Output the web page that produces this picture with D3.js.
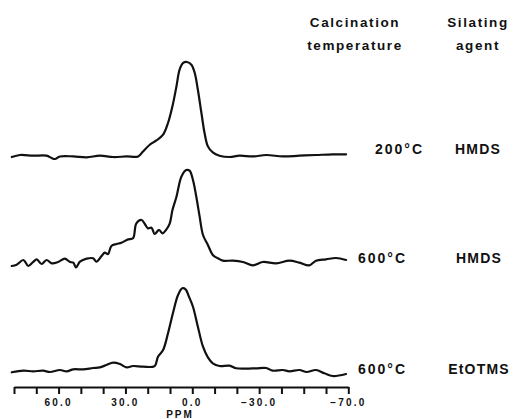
<!DOCTYPE html>
<html>
<head>
<meta charset="utf-8">
<script src="https://cdn.jsdelivr.net/npm/d3@7"></script>
<style>
  html, body { margin: 0; padding: 0; background: #fff; }
  svg { display: block; }
  text { font-family: "Liberation Sans", Arial, Helvetica, sans-serif; font-weight: bold; fill: #111; }
</style>
</head>
<body>
<svg id="chart" width="513" height="419"></svg>
<script>
// ---- Data (ppm positions and relative intensities) ----
const ppmTop = [81.0, 77.3, 71.4, 65.4, 63.1, 61.6, 59.4, 53.4, 47.4, 41.5, 35.5, 29.5, 24.3, 22.1, 19.1, 16.1, 13.1, 10.9, 8.9, 7.1, 5.7, 4.2, 2.4, 0.4, -1.1, -2.5, -4.1, -5.5, -7.0, -9.2, -12.2, -16.7, -21.2, -27.2, -33.2, -40.6, -48.1, -55.6, -63.0, -69.0];
const intTop = [0, 2.1, 1.4, 1.4, -1.1, -2.1, 0.6, 0.6, -0.4, 1.4, 0, 0.6, 0.6, 5.9, 12.9, 17.5, 23.5, 35.8, 53.5, 74.5, 92.0, 98.9, 100, 97.2, 88.5, 70.8, 46.3, 25.3, 11.2, 4.8, 1.4, 0, 1.4, 0.6, 2.1, 0.6, 1.4, 2.1, 2.8, 2.8];

const ppmMid = [81.0, 78.8, 75.8, 73.6, 71.4, 69.8, 67.6, 65.4, 63.1, 60.2, 57.2, 54.9, 53.4, 52.2, 50.4, 47.4, 44.5, 43.0, 40.7, 39.3, 37.8, 36.3, 34.0, 31.8, 28.8, 26.6, 25.1, 22.8, 21.3, 19.9, 18.3, 16.9, 14.9, 13.4, 11.6, 10.1, 8.9, 7.1, 4.9, 2.7, 1.2, -0.3, -1.8, -3.3, -4.8, -7.0, -9.2, -11.5, -13.7, -18.2, -22.7, -27.2, -31.6, -37.6, -43.6, -48.1, -52.5, -55.5, -60.0, -64.5, -69.0];
const intMid = [-1.4, 0, 4.9, -1.4, 2.8, 5.6, 0.7, 4.9, 1.4, 2.8, 6.3, 2.8, 2.1, -2.8, 3.1, 6.3, 6.7, 3.1, 9.1, 12.6, 11.2, 19.6, 21.7, 23.1, 26.6, 27.7, 43.5, 47.0, 42.8, 38.2, 38.9, 32.3, 36.5, 33.0, 37.2, 43.5, 57.5, 71.5, 92.6, 99.6, 98.9, 89.1, 71.5, 50.5, 31.2, 20.7, 10.2, 6.7, 4.2, 4.2, 2.8, -0.7, 2.8, 1.4, 4.2, 2.1, -0.7, 4.2, 5.6, 7.0, 4.9];

const ppmBot = [81.0, 75.8, 71.4, 66.9, 63.9, 59.4, 56.4, 53.4, 49.0, 44.5, 41.5, 38.5, 35.5, 32.5, 29.5, 26.6, 22.1, 16.9, 15.4, 13.1, 10.9, 8.7, 6.4, 4.5, 3.0, 1.5, -0.3, -2.5, -4.8, -7.0, -9.2, -12.2, -16.7, -19.7, -24.2, -28.7, -33.2, -36.1, -40.6, -43.6, -48.1, -51.3, -55.5, -59.3, -63.0, -69.0];
const intBot = [-0.3, 1.4, 0.7, 1.4, 0, 2.1, 0.7, 2.8, 2.8, 4.2, 4.9, 7.4, 9.8, 8.4, 4.9, 6.3, 5.6, 6.3, 16.1, 23.2, 40.7, 61.8, 81.1, 88.1, 87.0, 79.3, 68.7, 47.7, 26.6, 15.4, 9.1, 6.3, 6.7, 3.9, 3.5, 3.9, 4.2, 1.4, 2.1, 0.7, 2.1, 0, 2.1, -1.4, -4.2, -2.1];

const offsets = [226.3, 113, 0];               // vertical stacking offsets (intensity units)
const temps = ["200°C", "600°C", "600°C"];
const agents = ["HMDS", "HMDS", "EtOTMS"];
const headerTemp = ["Calcination", "temperature"];
const headerAgent = ["Silating", "agent"];
const tickValues = [80, 70, 60, 50, 40, 30, 20, 10, 0, -10, -20, -30, -40, -50, -60, -70];
const labelValues = [60, 30, 0, -30, -70];
const axisTitle = "PPM";

// ---- Chart ----
const svg = d3.select("#chart");
const x = d3.scaleLinear().domain([80, -70]).range([14, 348.3]);
const y = d3.scaleLinear().domain([0, 340]).range([372, 49]);

const traces = [
  { ppm: ppmTop, v: intTop },
  { ppm: ppmMid, v: intMid },
  { ppm: ppmBot, v: intBot }
];

const line = d3.line().curve(d3.curveCatmullRom.alpha(0.5));

traces.forEach((t, i) => {
  const pts = t.ppm.map((p, j) => [x(p), y(t.v[j] + offsets[i])]);
  svg.append("path")
    .attr("d", line(pts))
    .attr("fill", "none")
    .attr("stroke", "#111")
    .attr("stroke-width", 2.2)
    .attr("stroke-linejoin", "round")
    .attr("stroke-linecap", "round");
});

// Axis
const axisY = 387;
const axis = d3.axisBottom(x)
  .tickValues(tickValues)
  .tickSize(7)
  .tickSizeOuter(0)
  .tickFormat(() => "");
const ag = svg.append("g").attr("transform", `translate(0,${axisY})`).call(axis);
ag.select(".domain").attr("stroke", "#111").attr("stroke-width", 2.2);
ag.selectAll(".tick line").attr("stroke", "#111").attr("stroke-width", 2);

const fmt = d3.format(".1f");
svg.append("g").selectAll("text")
  .data(labelValues)
  .join("text")
  .attr("x", d => x(d))
  .attr("y", 406)
  .attr("text-anchor", "middle")
  .attr("font-size", 10)
  .attr("letter-spacing", 2.2)
  .text(d => fmt(d));

svg.append("text")
  .attr("x", 180)
  .attr("y", 418)
  .attr("text-anchor", "middle")
  .attr("font-size", 10)
  .attr("letter-spacing", 2)
  .text(axisTitle);

// Headers
const hdrY = [26.5, 50];
headerTemp.forEach((s, i) => {
  svg.append("text").attr("x", 355).attr("y", hdrY[i])
    .attr("text-anchor", "middle").attr("font-size", 13.5).attr("letter-spacing", 1.6).text(s);
});
headerAgent.forEach((s, i) => {
  svg.append("text").attr("x", 478).attr("y", hdrY[i])
    .attr("text-anchor", "middle").attr("font-size", 13.5).attr("letter-spacing", 1.6).text(s);
});

// Right labels
const tempX = [375, 358, 358];
const agentX = [478, 479, 479];
const labelDy = [-3.5, -1.5, 1.5];
temps.forEach((s, i) => {
  svg.append("text").attr("x", tempX[i]).attr("y", y(offsets[i]) + labelDy[i])
    .attr("font-size", 14).attr("letter-spacing", 2).text(s);
  svg.append("text").attr("x", agentX[i]).attr("y", y(offsets[i]) + labelDy[i])
    .attr("text-anchor", "middle").attr("font-size", 14).attr("letter-spacing", 1.2).text(agents[i]);
});
</script>
</body>
</html>
